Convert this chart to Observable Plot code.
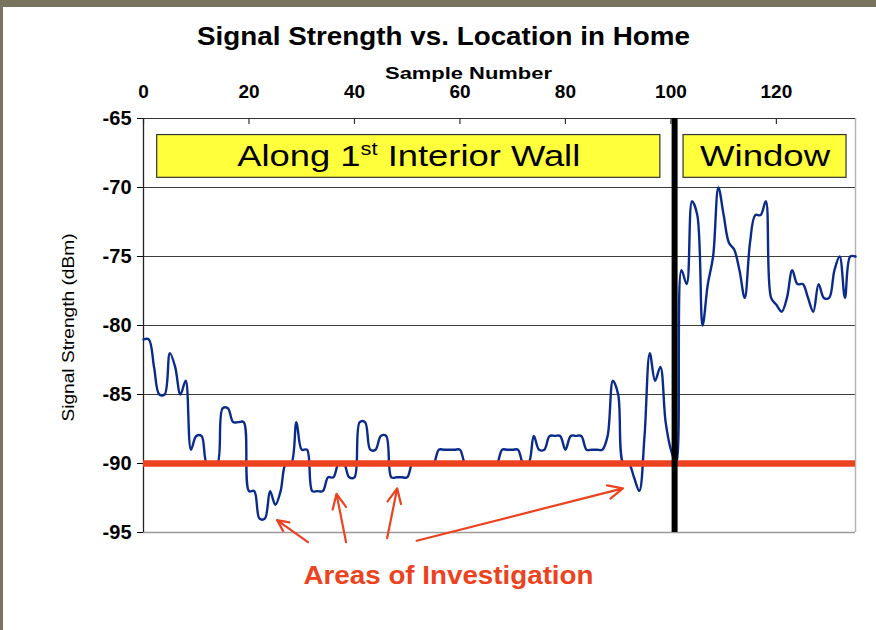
<!DOCTYPE html>
<html><head><meta charset="utf-8">
<script src="https://cdn.jsdelivr.net/npm/d3@7"></script>
<script src="https://cdn.jsdelivr.net/npm/@observablehq/plot@0.6"></script>
<style>
html,body{margin:0;padding:0;background:#fff;}
#wrap{position:relative;width:876px;height:630px;overflow:hidden;background:#fff;}
#bandTop{position:absolute;left:0;top:0;width:876px;height:7px;background:#77735e;}
#bandLeft{position:absolute;left:0;top:0;width:3px;height:630px;background:#77735e;}
#chart{position:absolute;left:0;top:0;}
</style></head><body>
<div id="wrap"><div id="chart"></div><div id="bandTop"></div><div id="bandLeft"></div></div>
<script>
// ---- data ----
const signalDbm = [
  -81, -81, -83, -85, -85, -82, -83, -85, -84, -89,
  -88, -88, -90, -90, -90, -86, -86, -87, -87, -87,
  -92, -92, -94, -94, -92, -93, -92, -90, -90, -87,
  -89, -89, -92, -92, -92, -91, -91, -90, -90, -91,
  -91, -87, -87, -89, -89, -88, -88, -91, -91, -91,
  -91, -90, -90, -90, -90, -90, -89, -89, -89, -89,
  -89, -90, -90, -90, -90, -90, -90, -90, -89, -89,
  -89, -89, -90, -90, -88, -89, -89, -88, -88, -88,
  -89, -88, -88, -88, -89, -89, -89, -89, -88, -84,
  -85, -90, -90, -91, -92, -88, -82, -84, -83, -87,
  -89, -90, -76, -77, -71, -72, -80, -77, -75, -70,
  -72, -74, -74.5, -76, -78, -74, -72, -72, -71, -78,
  -78.5, -79, -78, -76, -77, -77, -78, -79, -77, -78,
  -78, -76, -75, -78, -75, -75
];
const sampleNumber = signalDbm.map((_, i) => i);
const xTicks = [0, 20, 40, 60, 80, 100, 120];
const yTicks = [-65, -70, -75, -80, -85, -90, -95];
const gridValues = [-70, -75, -80, -85, -90];
const thresholdDbm = -90;
const wallSample = 100.7;

// annotation boxes (data units)
const boxLabels = ["Along 1st Interior Wall", "Window"];
const boxStart = [2.6, 102.4];
const boxEnd = [98, 133.3];
const boxTop = [-66.2, -66.2];
const boxBottom = [-69.3, -69.3];

// arrows (data units)
const arrowTailX = [31.2, 38.4, 46.2, 51.8];
const arrowTailY = [-95.7, -95.7, -95.4, -95.6];
const arrowHeadX = [25.3, 36.6, 48.1, 90.9];
const arrowHeadY = [-94.1, -92.2, -91.8, -91.8];

const titleText = "Signal Strength vs. Location in Home";
const xLabel = "Sample Number";
const yLabel = "Signal Strength (dBm)";
const noteText = "Areas of Investigation";

const series = sampleNumber.map((s, i) => ({s, v: signalDbm[i]}));
const boxes = boxLabels.map((label, i) => ({label, x1: boxStart[i], x2: boxEnd[i], y1: boxTop[i], y2: boxBottom[i]}));
const arrows = arrowTailX.map((x1, i) => ({x1, y1: arrowTailY[i], x2: arrowHeadX[i], y2: arrowHeadY[i]}));

const red = "#ec4220";
const chart = Plot.plot({
  width: 876, height: 630,
  marginTop: 118, marginBottom: 98, marginLeft: 143, marginRight: 21,
  style: {fontFamily: "'Liberation Sans', Arial, sans-serif", background: "transparent", color: "#000"},
  x: {domain: [0, 135]},
  y: {domain: [-95, -65]},
  marks: [
    Plot.ruleY(gridValues, {stroke: "#3c3c3c", strokeWidth: 1.2}),
    Plot.ruleY([-95], {stroke: "#9a9a9a", strokeWidth: 1.5}),
    Plot.ruleX([135], {stroke: "#b4b4b4", strokeWidth: 1.5}),
    Plot.ruleY([-65], {stroke: "#333", strokeWidth: 1.2}),
    Plot.tickX(xTicks, {x: d => d, insetBottom: 408, stroke: "#333", strokeWidth: 1.2}),
    Plot.axisY({ticks: yTicks, tickSize: 6, tickPadding: 6, tickFormat: d => String(d), fontSize: 20, fontWeight: "bold", label: null}),
    Plot.axisX({anchor: "top", ticks: xTicks, tickSize: 0, tickPadding: 21, tickFormat: d => String(d), fontSize: 19, fontWeight: "bold", label: null}),
    Plot.ruleX([0], {stroke: "#222", strokeWidth: 1.3}),
    Plot.line(series, {x: "s", y: "v", stroke: "#0a2b8c", strokeWidth: 2.4, curve: "catmull-rom"}),
    Plot.ruleY([thresholdDbm], {stroke: red, strokeWidth: 6.5}),
    Plot.ruleX([wallSample], {stroke: "#000", strokeWidth: 6}),
    Plot.rect(boxes, {x1: "x1", x2: "x2", y1: "y1", y2: "y2", fill: "#ffff3c", stroke: "#333", strokeWidth: 1.2}),
    Plot.text(boxes, {x: d => (d.x1 + d.x2) / 2, y: d => (d.y1 + d.y2) / 2, text: "label", fontSize: 30, lineAnchor: "middle", fill: "#000"}),
    Plot.arrow(arrows, {x1: "x1", y1: "y1", x2: "x2", y2: "y2", stroke: red, strokeWidth: 2.2, headLength: 11, headAngle: 50}),
    Plot.text([titleText], {frameAnchor: "top-left", dx: 300, dy: -74, textAnchor: "middle", lineAnchor: "bottom", fontSize: 26, fontWeight: "bold"}),
    Plot.text([xLabel], {frameAnchor: "top-left", dx: 325, dy: -40, textAnchor: "middle", lineAnchor: "bottom", fontSize: 17, fontWeight: "bold"}),
    Plot.text([yLabel], {frameAnchor: "left", dx: -75, dy: 2, rotate: -90, textAnchor: "middle", lineAnchor: "middle", fontSize: 17}),
    Plot.text([noteText], {frameAnchor: "bottom-left", dx: 305, dy: 51, textAnchor: "middle", lineAnchor: "bottom", fontSize: 25, fontWeight: "bold", fill: red})
  ]
});

// stretch text to the reference widths and add the superscript
const targetWidths = {};
targetWidths[titleText] = 493;
targetWidths[xLabel] = 167;
targetWidths[noteText] = 290;
targetWidths[yLabel] = 188;
targetWidths[boxLabels[0]] = 343;
targetWidths[boxLabels[1]] = 130;
chart.querySelectorAll("text").forEach(t => {
  const s = t.textContent;
  if (s === boxLabels[0]) {
    const ns = "http://www.w3.org/2000/svg";
    t.textContent = "";
    t.appendChild(document.createTextNode("Along 1"));
    const sup = document.createElementNS(ns, "tspan");
    sup.setAttribute("font-size", "18");
    sup.setAttribute("dy", "-11");
    sup.textContent = "st";
    t.appendChild(sup);
    const rest = document.createElementNS(ns, "tspan");
    rest.setAttribute("dy", "11");
    rest.textContent = " Interior Wall";
    t.appendChild(rest);
  }
  if (targetWidths[s]) {
    t.setAttribute("textLength", targetWidths[s]);
    t.setAttribute("lengthAdjust", "spacingAndGlyphs");
  }
});
document.getElementById("chart").appendChild(chart);
</script>
</body></html>
